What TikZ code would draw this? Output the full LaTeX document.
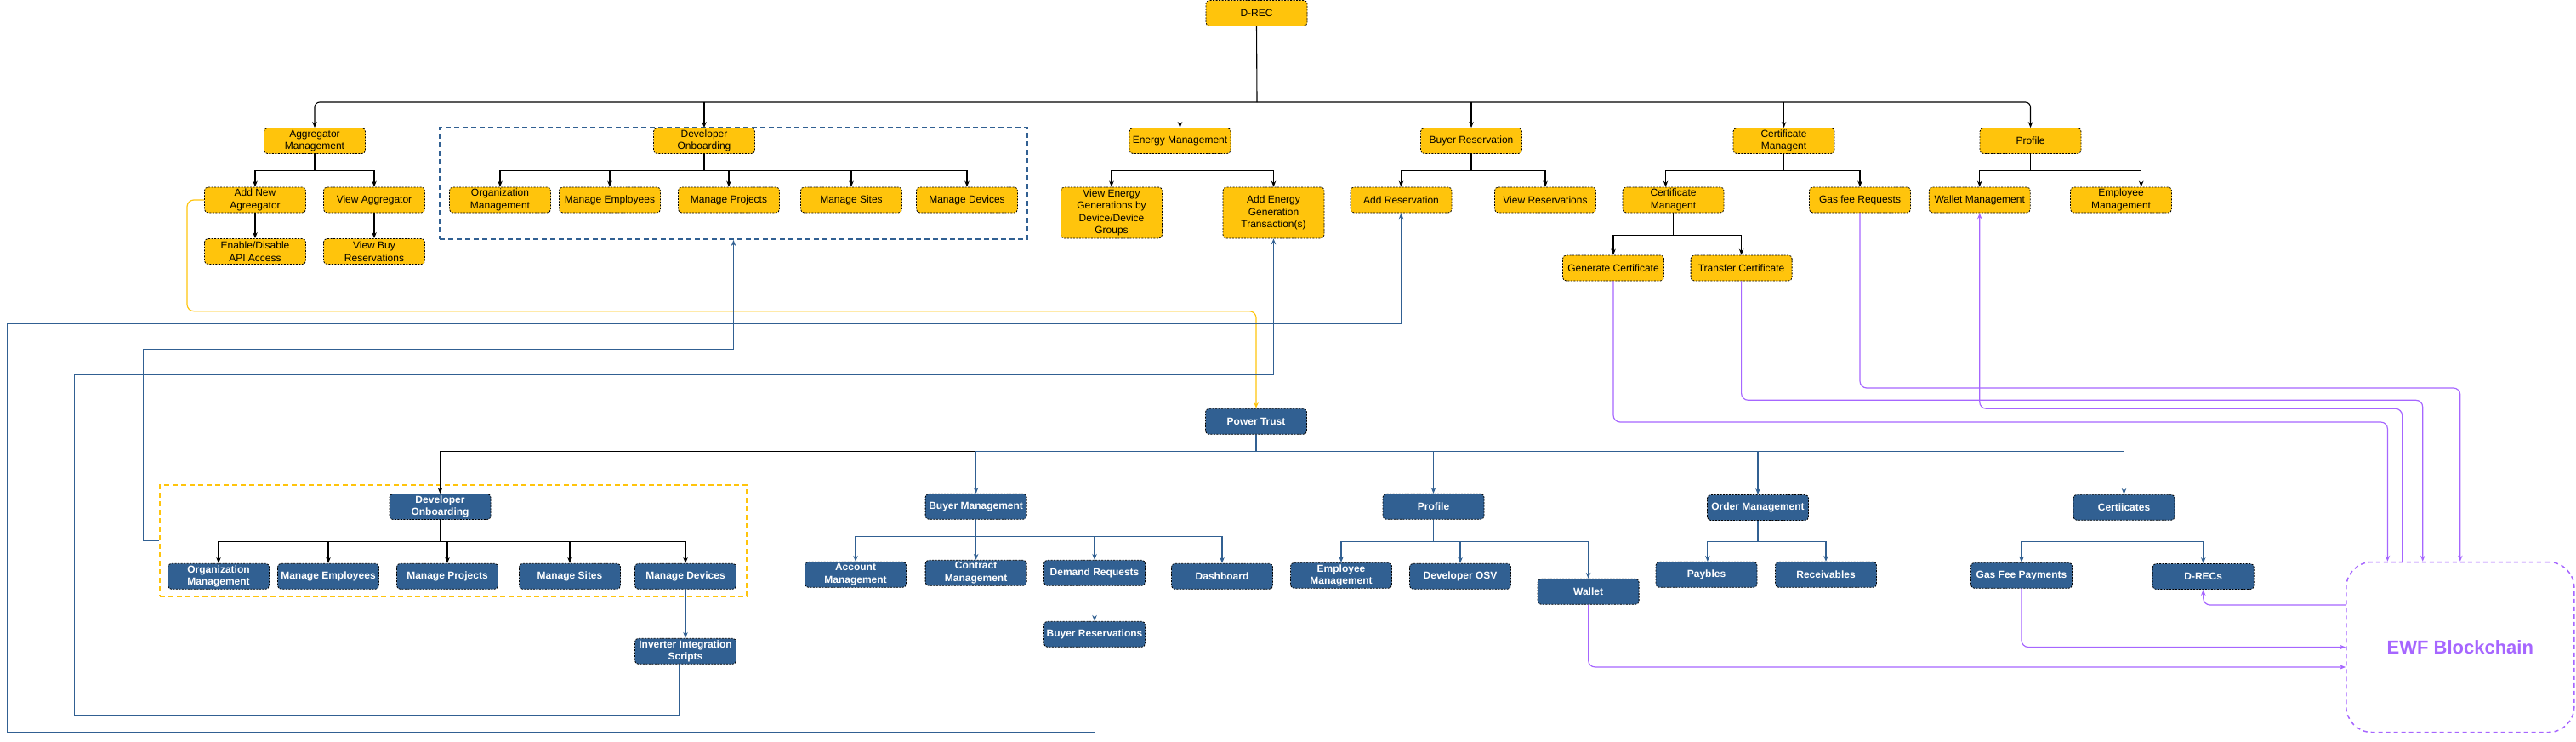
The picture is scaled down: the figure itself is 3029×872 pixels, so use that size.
\documentclass[tikz,border=0pt]{standalone}
\usepackage{fontspec}
\setmainfont{Liberation Sans}
\usetikzlibrary{arrows.meta}
\definecolor{boxyellow}{HTML}{FFC40C}
\definecolor{boxblue}{HTML}{316092}
\definecolor{ewfpurple}{HTML}{A666FF}
\tikzset{
    ybox/.style={draw, dash pattern=on 2pt off 1.5pt, line width=0.8pt,
        rounded corners=4pt, fill=boxyellow, minimum width=119pt,
        minimum height=30pt, inner sep=1pt, align=center,
        font=\fontsize{12}{14.5}\selectfont},
    bbox/.style={ybox, fill=boxblue, text=white,
        font=\fontsize{12}{14.5}\selectfont\bfseries},
    grpbox/.style={draw, dash pattern=on 6pt off 4pt, line width=2pt,
        inner sep=0pt},
    tree/.style={line width=1.1pt},
    btree/.style={line width=1.1pt, draw=boxblue},
    blink/.style={line width=1pt, draw=boxblue},
    ylink/.style={line width=1.2pt, draw=boxyellow, rounded corners=8pt},
    plink/.style={line width=1.2pt, draw=ewfpurple, rounded corners=8pt}
}
\begin{document}
\begin{tikzpicture}[x=1pt, y=-1pt, >={Stealth[length=7pt,width=5.5pt]}]
    \useasboundingbox (0,0) rectangle (3029,872);

    % upper tree
    \node (devgrp) [grpbox, draw=boxblue, minimum width=691pt, minimum height=131pt] at (862.5,215.5) {};
    \node (drec) [ybox] at (1477.5,15.5) {D-REC};
    \node (agg) [ybox] at (370,165.5) {Aggregator\\Management};
    \node (devon) [ybox] at (828,165.5) {Developer\\Onboarding};
    \node (energy) [ybox] at (1387.5,165.5) {Energy Management};
    \node (buyres) [ybox] at (1730,165.5) {Buyer Reservation};
    \node (certm) [ybox] at (2097.5,165.5) {Certificate\\Managent};
    \node (prof) [ybox] at (2387.5,165.5) {Profile};

    \node (addagg) [ybox] at (300,235) {Add New\\Agreegator};
    \node (viewagg) [ybox] at (440,235) {View Aggregator};
    \node (apiacc) [ybox] at (300,295.5) {Enable/Disable\\API Access};
    \node (viewbuy) [ybox] at (440,295.5) {View Buy\\Reservations};
    \node (orgm) [ybox] at (588,235) {Organization\\Management};
    \node (mngemp) [ybox] at (717,235) {Manage Employees};
    \node (mngproj) [ybox] at (857,235) {Manage Projects};
    \node (mngsite) [ybox] at (1001,235) {Manage Sites};
    \node (mngdev) [ybox] at (1137,235) {Manage Devices};
    \node (viewgen) [ybox, minimum height=60pt] at (1307,250) {View Energy\\Generations by\\Device/Device\\Groups};
    \node (addgen) [ybox, minimum height=60pt] at (1497.5,250) {Add Energy\\Generation\\Transaction(s)};
    \node (addres) [ybox] at (1647.5,235) {Add Reservation};
    \node (viewres) [ybox] at (1817,235) {View Reservations};
    \node (certsub) [ybox] at (1967.5,235) {Certificate\\Managent};
    \node (gasreq) [ybox] at (2187,235) {Gas fee Requests};
    \node (walletm) [ybox] at (2327.7,235) {Wallet Management};
    \node (empm) [ybox] at (2494,235) {Employee\\Management};
    \node (gencert) [ybox] at (1897,315) {Generate Certificate};
    \node (trcert) [ybox] at (2047.6,315) {Transfer Certificate};

    \coordinate (drecjoin) at (1478,120);
    \draw[tree] (drec.south) -- (drecjoin);
    \draw[tree, ->, rounded corners=6pt] (drecjoin) -| (agg.north);
    \draw[tree, ->, rounded corners=6pt] (drecjoin) -| (prof.north);
    \draw[tree, ->] (drecjoin -| devon.north) -- (devon.north);
    \draw[tree, ->] (drecjoin -| energy.north) -- (energy.north);
    \draw[tree, ->] (drecjoin -| buyres.north) -- (buyres.north);
    \draw[tree, ->] (drecjoin -| certm.north) -- (certm.north);

    \draw[tree, ->] (agg.south) -- ++(0,20) -| (addagg.north);
    \draw[tree, ->] (agg.south) -- ++(0,20) -| (viewagg.north);
    \draw[tree, ->] (addagg.south) -- (apiacc.north);
    \draw[tree, ->] (viewagg.south) -- (viewbuy.north);
    \draw[tree, ->] (devon.south) -- ++(0,20) -| (orgm.north);
    \draw[tree, ->] (devon.south) -- ++(0,20) -| (mngemp.north);
    \draw[tree, ->] (devon.south) -- ++(0,20) -| (mngproj.north);
    \draw[tree, ->] (devon.south) -- ++(0,20) -| (mngsite.north);
    \draw[tree, ->] (devon.south) -- ++(0,20) -| (mngdev.north);
    \draw[tree, ->] (energy.south) -- ++(0,20) -| (viewgen.north);
    \draw[tree, ->] (energy.south) -- ++(0,20) -| (addgen.north);
    \draw[tree, ->] (buyres.south) -- ++(0,20) -| (addres.north);
    \draw[tree, ->] (buyres.south) -- ++(0,20) -| (viewres.north);
    \draw[tree, ->] (certm.south) -- ++(0,20) -| ([xshift=-9pt]certsub.north);
    \draw[tree, ->] (certm.south) -- ++(0,20) -| (gasreq.north);
    \draw[tree, ->] (certsub.south) -- ++(0,25.7) -| (gencert.north);
    \draw[tree, ->] (certsub.south) -- ++(0,25.7) -| (trcert.north);
    \draw[tree, ->] (prof.south) -- ++(0,20) -| (walletm.north);
    \draw[tree, ->] (prof.south) -- ++(0,20) -| ([xshift=23.7pt]empm.north);

    % lower tree
    \node (bdevgrp) [grpbox, draw=boxyellow, minimum width=690pt, minimum height=131pt] at (532.5,635.5) {};
    \node (ptrust) [bbox] at (1477,495.3) {Power Trust};
    \node (bdevon) [bbox] at (517.5,595.5) {Developer\\Onboarding};
    \node (borgm) [bbox] at (257,677.3) {Organization\\Management};
    \node (bemp) [bbox] at (386,677.3) {Manage Employees};
    \node (bproj) [bbox] at (526,677.3) {Manage Projects};
    \node (bsite) [bbox] at (670,677.3) {Manage Sites};
    \node (bdev) [bbox] at (806,677.3) {Manage Devices};
    \node (inverter) [bbox] at (806,765.3) {Inverter Integration\\Scripts};
    \node (buyerm) [bbox] at (1147.6,595.3) {Buyer Management};
    \node (accm) [bbox] at (1006,675.3) {Account\\Management};
    \node (contm) [bbox] at (1147.6,673.3) {Contract\\Management};
    \node (demreq) [bbox] at (1287,673.3) {Demand Requests};
    \node (dash) [bbox] at (1437,677.3) {Dashboard};
    \node (buyresv) [bbox] at (1287,745.3) {Buyer Reservations};
    \node (bprof) [bbox] at (1685.5,595.3) {Profile};
    \node (bempm) [bbox] at (1577,676.3) {Employee\\Management};
    \node (devosv) [bbox] at (1717,677.3) {Developer OSV};
    \node (wallet) [bbox] at (1867.6,695.3) {Wallet};
    \node (orderm) [bbox] at (2067,596.5) {Order Management};
    \node (paybles) [bbox] at (2006.5,675.3) {Paybles};
    \node (receiv) [bbox] at (2147,675.3) {Receivables};
    \node (certs) [bbox] at (2497.5,596.3) {Certiicates};
    \node (gaspay) [bbox] at (2377,676.3) {Gas Fee Payments};
    \node (drecs) [bbox] at (2590.7,677.5) {D-RECs};
    \node (ewf) [draw=ewfpurple, dash pattern=on 5pt off 4pt, line width=1.5pt,
        rounded corners=30pt, minimum width=268pt, minimum height=200pt,
        text=ewfpurple, font=\fontsize{22}{26}\selectfont\bfseries] at (2892.8,760.5) {EWF Blockchain};

    \draw[tree, ->] (ptrust.south) -- ++(0,20) -| (bdevon.north);
    \draw[btree, ->] (ptrust.south) -- ++(0,20) -| (buyerm.north);
    \draw[btree, ->] (ptrust.south) -- ++(0,20) -| (bprof.north);
    \draw[btree, ->] (ptrust.south) -- ++(0,20) -| (orderm.north);
    \draw[btree, ->] (ptrust.south) -- ++(0,20) -| (certs.north);

    \draw[tree, ->] (bdevon.south) -- ++(0,26) -| (borgm.north);
    \draw[tree, ->] (bdevon.south) -- ++(0,26) -| (bemp.north);
    \draw[tree, ->] (bdevon.south) -- ++(0,26) -| (bproj.north);
    \draw[tree, ->] (bdevon.south) -- ++(0,26) -| (bsite.north);
    \draw[tree, ->] (bdevon.south) -- ++(0,26) -| (bdev.north);
    \draw[blink, ->] (bdev.south) -- (inverter.north);

    \draw[btree, ->] (buyerm.south) -- ++(0,20) -| (accm.north);
    \draw[btree, ->] (buyerm.south) -- ++(0,20) -| (contm.north);
    \draw[btree, ->] (buyerm.south) -- ++(0,20) -| (demreq.north);
    \draw[btree, ->] (buyerm.south) -- ++(0,20) -| (dash.north);
    \draw[blink, ->] (demreq.south) -- (buyresv.north);

    \draw[btree, ->] (bprof.south) -- ++(0,25.7) -| (bempm.north);
    \draw[btree, ->] (bprof.south) -- ++(0,25.7) -| (devosv.north);
    \draw[btree, ->] (bprof.south) -- ++(0,25.7) -| (wallet.north);
    \draw[btree, ->] (orderm.south) -- ++(0,25) -| ([xshift=1.3pt]paybles.north);
    \draw[btree, ->] (orderm.south) -- ++(0,25) -| (receiv.north);
    \draw[btree, ->] (certs.south) -- ++(0,25) -| (gaspay.north);
    \draw[btree, ->] (certs.south) -- ++(0,25) -| (drecs.north);

    % links between the two trees
    \coordinate (ylcorner) at (220,365.7);
    \draw[ylink, ->] (addagg.west) -| (ylcorner) -| (ptrust.north);

    \coordinate (blcorner) at (168,410);
    \draw[blink, ->] (bdevgrp.west) -| (blcorner) -| (devgrp.south);
    \coordinate (bmcorner) at (87,440);
    \draw[blink, ->] ([xshift=-8pt]inverter.south) -- ++(0,60) -| (bmcorner) -| (addgen.south);
    \coordinate (bocorner) at (8,380);
    \draw[blink, ->] (buyresv.south) -- ++(0,100) -| (bocorner) -| (addres.south);

    % blockchain links
    \coordinate (pgen) at (2807.4,496);
    \coordinate (ptr) at (2848.7,470.3);
    \coordinate (pgas) at (2892.8,456);
    \coordinate (pwal) at (2824.6,480.3);
    \draw[plink, ->] (gencert.south) |- (pgen) -- (pgen |- ewf.north);
    \draw[plink, ->] (trcert.south) |- (ptr) -- (ptr |- ewf.north);
    \draw[plink, ->] (gasreq.south) |- (pgas) -- (ewf.north);
    \draw[plink, ->] (pwal |- ewf.north) -- (pwal) -| (walletm.south);
    \draw[plink, ->] (wallet.south) |- ([yshift=-23.5pt]ewf.west);
    \draw[plink, ->] (gaspay.south) |- (ewf.west);
    \draw[plink, ->] ([yshift=49.5pt]ewf.west) -| (drecs.south);
\end{tikzpicture}
\end{document}
